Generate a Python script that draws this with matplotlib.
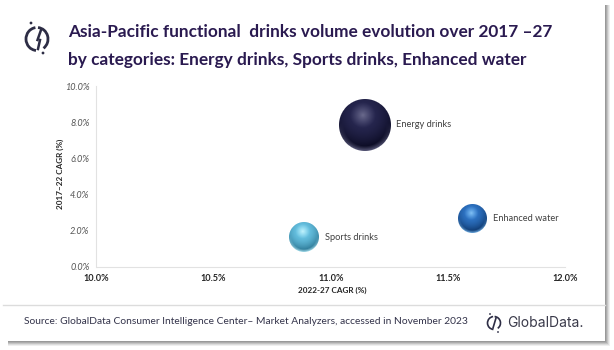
import numpy as np
import matplotlib
matplotlib.use('Agg')
import matplotlib.pyplot as plt
from matplotlib.offsetbox import OffsetImage, AnnotationBbox
from matplotlib.patches import Arc, Circle, Rectangle

plt.rcParams['font.family'] = ['Lato', 'DejaVu Sans']

# values
names = ['Energy drinks', 'Sports drinks', 'Enhanced water']
cagr_2227 = [11.145, 10.886, 11.607]
cagr_1722 = [7.85, 1.63, 2.69]
radius_px = [26, 15, 14.5]

x_ticks = [10.0, 10.5, 11.0, 11.5, 12.0]
y_ticks = [0, 2, 4, 6, 8, 10]

title_1 = 'Asia-Pacific functional  drinks volume evolution over 2017 \u201327'
title_2 = 'by categories: Energy drinks, Sports drinks, Enhanced water'
source = 'Source: GlobalData Consumer Intelligence Center\u2013 Market Analyzers, accessed in November 2023'

# edge, mid, highlight colours of the balls
ball_colors = [
    ('#0d0d26', '#2a2a55', '#6a6a8c'),
    ('#33809e', '#6cc8e8', '#c0f2fc'),
    ('#123f78', '#3179cc', '#80c0f4'),
]
label_gap = [5, 6, 6]


def sphere(radius, edge, mid, high):
    # radial shaded ball as an rgba image
    size = int(np.ceil(radius * 2)) + 2
    c = (size - 1) / 2
    yy, xx = np.mgrid[0:size, 0:size]
    dx = (xx - c) / radius
    dy = (yy - c) / radius
    d = np.hypot(dx, dy)
    spot = np.hypot(dx + 0.08, dy + 0.38)
    e = np.array(matplotlib.colors.to_rgb(edge))
    m = np.array(matplotlib.colors.to_rgb(mid))
    h = np.array(matplotlib.colors.to_rgb(high))
    t = np.clip(spot / 1.2, 0, 1)[..., None]
    rgb = m + (e - m) * t ** 2
    glow = np.clip(1 - spot / 0.5, 0, 1)[..., None] ** 1.2
    rgb = rgb + (h - rgb) * glow
    # lighter rim at the lower edge
    rim = (np.clip((d - 0.8) / 0.2, 0, 1) * np.clip(dy + 0.1, 0, 1))[..., None]
    rgb = rgb + (h - rgb) * rim * 0.8
    alpha = np.clip((1 - d) * radius + 0.5, 0, 1)
    return np.dstack([np.clip(rgb, 0, 1), alpha])


fig = plt.figure(figsize=(6.14, 3.5), dpi=100)

# frame, shadow, logos go on a pixel sized layer
bg = fig.add_axes([0, 0, 1, 1])
bg.set_xlim(0, 614)
bg.set_ylim(350, 0)
bg.axis('off')
for i, col in enumerate(['#efefef', '#dcdcdc', '#c4c4c4', '#acacac', '#999999']):
    off = 5 - i
    bg.add_patch(Rectangle((8, 5), 597 + off, 336 + off, fc=col, ec='none'))
bg.add_patch(Rectangle((3, 2), 602, 339, fc='white', ec='none'))
bg.plot([3, 605], [305, 305], color='#dcdcdc', lw=1)

ink = '#2d2d45'
bg.add_patch(Arc((37, 39), 22, 23, theta1=-85, theta2=55, ec=ink, lw=2))
bg.add_patch(Arc((37, 39), 22, 23, theta1=95, theta2=262, ec=ink, lw=2))
bg.plot([41, 37.5], [30, 40], color=ink, lw=1.8)
bg.plot([40, 38], [40, 49], color=ink, lw=1.8)
bg.add_patch(Circle((31, 23), 1.4, fc=ink, ec='none'))
bg.add_patch(Circle((43, 53), 1.4, fc=ink, ec='none'))

bg.add_patch(Arc((494, 323), 13, 13, theta1=-85, theta2=55, ec=ink, lw=1.2))
bg.add_patch(Arc((494, 323), 13, 13, theta1=95, theta2=262, ec=ink, lw=1.2))
bg.plot([496, 493], [318, 328], color=ink, lw=1.2)
bg.add_patch(Circle((490, 314), 0.9, fc=ink, ec='none'))
bg.add_patch(Circle((498, 332), 0.9, fc=ink, ec='none'))
bg.text(507, 323, 'GlobalData.', fontsize=10, color='#3a3a4a', va='center',
        family=['Inter', 'DejaVu Sans'])

bg.text(68, 32, title_1, fontsize=12.45, fontweight='bold', color='#2a1a50', va='center')
bg.text(68, 60, title_2, fontsize=12.45, fontweight='bold', color='#2a1a50', va='center')
bg.text(24, 321, source, fontsize=7.4, color='#33334a', va='center')

# chart
ax = fig.add_axes([96.5 / 614, 1 - 267 / 350, 468.5 / 614, 181 / 350])
ax.patch.set_alpha(0)
ax.set_xlim(10, 12)
ax.set_ylim(0, 10)
ax.set_xticks(x_ticks)
ax.set_yticks(y_ticks)
ax.set_xticklabels(['%.1f%%' % v for v in x_ticks], fontsize=6.6, fontweight='bold', color='#262626')
ax.set_yticklabels(['%.1f%%' % v for v in y_ticks], fontsize=6.6, style='italic', color='#555555')
ax.tick_params(length=0, pad=5, axis='y')
ax.tick_params(length=0, pad=5, axis='x')
for side in ['top', 'right']:
    ax.spines[side].set_visible(False)
for side in ['left', 'bottom']:
    ax.spines[side].set_color('#e2e2e2')
ax.set_xlabel('2022-27 CAGR (%)', fontsize=5.9, fontweight='bold', color='#262626')
ax.set_ylabel('2017\u201322 CAGR (%)', fontsize=5.9, fontweight='bold', color='#262626')
ax.xaxis.set_label_coords((332 - 96.5) / 468.5, -(290 - 267) / 181, transform=ax.transAxes)
ax.yaxis.set_label_coords(-(96.5 - 60) / 468.5, (267 - 174) / 181, transform=ax.transAxes)
ax.xaxis.label.set_va('center')
ax.yaxis.label.set_va('center')

for i in range(len(names)):
    img = sphere(radius_px[i], *ball_colors[i])
    box = AnnotationBbox(OffsetImage(img, zoom=1, dpi_cor=False), (cagr_2227[i], cagr_1722[i]),
                         xycoords='data', frameon=False, pad=0, box_alignment=(0.5, 0.5))
    ax.add_artist(box)
    ax.annotate(names[i], (cagr_2227[i], cagr_1722[i]), xytext=((radius_px[i] + label_gap[i]) * 0.72, 0),
                textcoords='offset points', fontsize=6.7, color='#404040', va='center')

fig.savefig('out.png', dpi=100)
